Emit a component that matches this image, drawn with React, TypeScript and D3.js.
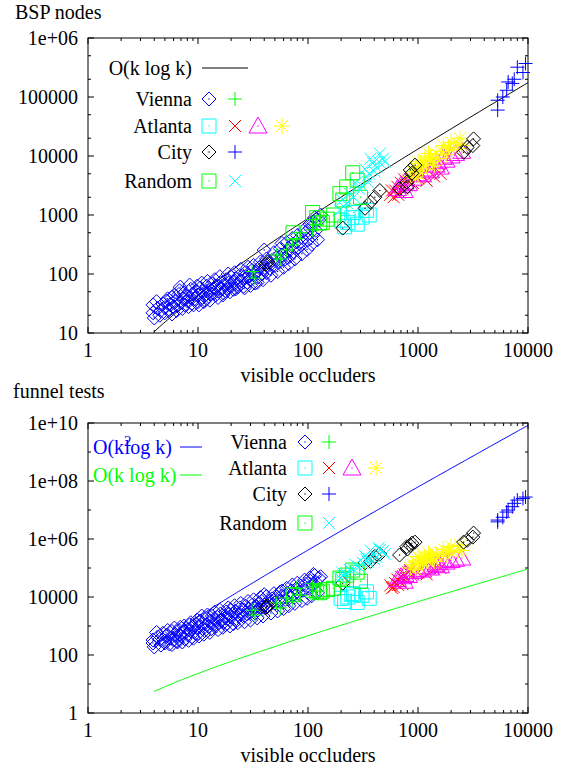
import React from "react";
import * as d3 from "d3";

// ---------- tick values / labels ----------
const xTicks = [1, 10, 100, 1000, 10000];
const xTickLabels = ["1", "10", "100", "1000", "10000"];
const bspTicks = [10, 100, 1000, 10000, 100000, 1000000];
const bspTickLabels = ["10", "100", "1000", "10000", "100000", "1e+06"];
const funnelTicks = [1, 100, 1e4, 1e6, 1e8, 1e10];
const funnelTickLabels = ["1", "100", "10000", "1e+06", "1e+08", "1e+10"];

// ---------- data: [visible occluders, BSP nodes, funnel tests] ----------
type Row = [number, number, number];

const viennaDiamond: Row[] = [
  [3.9, 22, 260], [3.9, 30, 330], [4.0, 18, 190], [4.2, 34, 600], [4.3, 26, 420], [4.5, 20, 350],
  [4.6, 24, 220], [4.8, 31, 560], [5.0, 27, 300], [5.0, 22, 260], [5.2, 35, 480], [5.3, 38, 700],
  [5.5, 25, 240], [5.6, 30, 380], [5.8, 40, 650], [5.8, 21, 230], [6.0, 28, 330], [6.1, 44, 850],
  [6.2, 34, 520], [6.4, 24, 300], [6.5, 29, 280], [6.7, 45, 700], [6.8, 52, 500], [6.9, 60, 900],
  [7.0, 33, 440], [7.2, 26, 280], [7.3, 38, 600], [7.5, 48, 1000], [7.6, 30, 360], [7.8, 42, 820],
  [8.0, 35, 500], [8.2, 28, 320], [8.4, 65, 1100], [8.5, 40, 700], [8.6, 55, 1300], [8.8, 32, 420],
  [9.0, 46, 950], [9.1, 30, 380], [9.3, 38, 650], [9.6, 52, 1200], [9.8, 62, 1600], [10, 34, 560],
  [10, 44, 900], [10.2, 30, 450], [10.5, 58, 1500], [10.8, 70, 2200], [11, 40, 800], [11, 50, 1200],
  [11.3, 34, 520], [11.5, 36, 700], [12, 46, 1100], [12, 62, 1800], [12.2, 75, 2400], [12.5, 42, 950],
  [12.8, 36, 600], [13, 54, 1500], [13.2, 46, 800], [13.5, 68, 2200], [14, 48, 1200], [14, 58, 1700],
  [14.2, 80, 3000], [14.5, 44, 1000], [15, 62, 2000], [15.2, 40, 750], [15.5, 52, 1400], [15.8, 90, 3500],
  [16, 72, 2600], [16.5, 56, 1600], [16.8, 44, 900], [17, 48, 1300], [17.5, 66, 2200], [17.8, 52, 1100],
  [18, 80, 3000], [18.5, 58, 1800], [18.8, 100, 4200], [19, 70, 2500], [19.5, 50, 1000], [20, 62, 2000],
  [20, 88, 3500], [21, 74, 2800], [21, 55, 1200], [21.5, 105, 5000], [22, 56, 1700], [22, 82, 3200],
  [23, 68, 2400], [23, 60, 1300], [24, 95, 4200], [24.5, 120, 6000], [25, 76, 2900], [26, 62, 2100],
  [26, 88, 3600], [26.5, 58, 1400], [27, 105, 4800], [28, 72, 2600], [28.5, 130, 7000], [29, 92, 3800],
  [30, 80, 3100], [30, 64, 1600], [31, 115, 5200], [32, 98, 4200], [32, 140, 8000], [33, 70, 2800],
  [34, 108, 4700], [34.5, 72, 1900], [35, 88, 3600], [36, 128, 6200], [37, 160, 9500], [38, 100, 4300],
  [38, 140, 7000], [39, 80, 2200], [40, 120, 5200], [40, 255, 12000], [42, 105, 4500], [42, 180, 10500],
  [44, 150, 7500], [45, 125, 5500], [46, 95, 2800], [47, 170, 8600], [49, 230, 13000], [50, 140, 6200],
  [52, 190, 9800], [53, 110, 3300], [55, 160, 7200], [56, 270, 15000], [58, 330, 16000], [58, 210, 11000],
  [60, 130, 4000], [62, 180, 8200], [64, 340, 20000], [65, 250, 13000], [67, 150, 5000], [68, 200, 9500],
  [70, 300, 16000], [72, 400, 26000], [74, 240, 12000], [76, 180, 6000], [78, 350, 19000], [80, 450, 30000],
  [82, 280, 14000], [86, 420, 24000], [88, 220, 7500], [90, 330, 17000], [93, 560, 38000], [95, 500, 28000],
  [98, 260, 9000], [100, 380, 20000], [104, 700, 45000], [105, 600, 35000], [108, 320, 11000],
  [110, 450, 26000], [112, 750, 60000], [115, 900, 55000], [118, 550, 32000], [122, 380, 14000],
  [125, 820, 45000], [130, 1000, 50000],
];
const viennaPlus: Row[] = [
  [31, 110, 3500], [33, 85, 2400], [52, 210, 6200], [56, 180, 4200], [64, 255, 9300],
  [72, 310, 8000], [79, 400, 20000], [85, 500, 11500], [110, 560, 22000], [120, 680, 16000],
];
const atlantaSquare: Row[] = [
  [200, 820, 9000], [215, 630, 7000], [230, 750, 10000], [250, 900, 13000], [280, 700, 6500],
  [310, 920, 11500], [340, 1200, 15000], [360, 1000, 9000], [260, 1100, 12000],
];
const atlantaCross: Row[] = [
  [560, 2200, 25000], [580, 2600, 20000], [600, 2000, 22000], [620, 2600, 30000], [650, 3000, 40000],
  [660, 2200, 26000], [680, 2400, 35000], [700, 3500, 50000], [720, 2800, 28000], [750, 4000, 60000],
  [780, 3200, 45000], [820, 3800, 70000], [850, 4400, 85000], [900, 3500, 60000], [1000, 4200, 70000],
  [1200, 3800, 60000], [1400, 4500, 90000], [1600, 5000, 100000],
];
const atlantaTriangle: Row[] = [
  [650, 2800, 40000], [700, 3200, 50000], [750, 2600, 35000], [760, 3600, 60000], [820, 3400, 55000],
  [900, 4200, 75000], [1000, 5000, 90000], [1100, 4800, 85000], [1200, 6000, 110000], [1300, 5600, 100000],
  [1450, 7000, 130000], [1500, 8000, 150000], [1600, 6500, 120000], [1700, 9500, 190000],
  [1800, 8500, 160000], [2000, 10000, 180000], [2200, 11000, 200000], [2500, 12000, 220000],
];
const atlantaStar: Row[] = [
  [850, 4500, 100000], [900, 5500, 130000], [950, 6500, 160000], [950, 4200, 90000], [1000, 5000, 120000],
  [1000, 8000, 250000], [1050, 7500, 200000], [1100, 6000, 150000], [1150, 8500, 230000],
  [1200, 7000, 180000], [1250, 11000, 320000], [1300, 9500, 260000], [1350, 8000, 210000],
  [1400, 7000, 170000], [1450, 11000, 300000], [1500, 9000, 250000], [1650, 12000, 330000],
  [1700, 15000, 450000], [1800, 10500, 280000], [1900, 14000, 380000], [2000, 17000, 550000],
  [2100, 13000, 350000], [2300, 16000, 420000], [2400, 20000, 620000], [2500, 15000, 400000],
];
const cityDiamond: Row[] = [
  [41, 145, 4200], [42, 150, 4500], [43, 160, 5000], [207, 600, 30000], [330, 1300, 150000],
  [370, 1650, 170000], [405, 2000, 250000], [450, 2600, 300000], [680, 2800, 280000],
  [790, 3600, 540000], [800, 3000, 450000], [850, 5800, 600000], [880, 5100, 720000],
  [940, 7000, 780000], [2600, 11600, 780000], [2800, 14000, 900000], [3150, 15000, 1160000],
  [3200, 19500, 1600000],
];
const cityPlus: Row[] = [
  [5300, 60000, 3.9e6], [5300, 88000, 4.5e6], [5900, 100000, 5.6e6], [6400, 130000, 8.5e6],
  [6600, 180000, 1.0e7], [7200, 170000, 1.3e7], [7500, 200000, 1.7e7], [8000, 320000, 2.2e7],
  [9000, 260000, 2.5e7], [9500, 370000, 2.8e7],
];
const randomSquare: Row[] = [
  [73, 500, 12000], [110, 1100, 17000], [120, 900, 15000], [128, 730, 14000], [135, 750, 16000],
  [150, 850, 18000], [170, 1000, 20000], [195, 2300, 45000], [207, 1800, 40000], [225, 3000, 57000],
  [255, 5200, 85000], [280, 3900, 72000], [300, 2000, 35000],
];
const randomCross: Row[] = [
  [195, 1200, 45000], [205, 1800, 70000], [210, 1400, 55000], [225, 1600, 60000], [240, 2300, 85000],
  [260, 2000, 90000], [270, 3500, 130000], [290, 2800, 110000], [315, 3000, 150000], [330, 6000, 260000],
  [340, 4400, 190000], [350, 3600, 160000], [360, 5000, 210000], [370, 9000, 400000], [390, 7600, 330000],
  [400, 5500, 200000], [420, 6500, 240000], [440, 8000, 500000], [450, 11000, 420000], [480, 9000, 380000],
  [500, 8000, 300000],
];

// reference curves: coefficient for c * k^p * ln k
const curveK = [4, 10000];
const bspCurveCoef = 1.9;
const funnelSqCoef = 9;
const funnelLinCoef = 1;

const BLUE = "#0000ff";
const GREEN = "#00ff00";
const CYAN = "#00ffff";
const RED = "#ff0000";
const MAGENTA = "#ff00ff";
const YELLOW = "#ffff00";
const BLACK = "#000000";

const series = [
  { data: viennaDiamond, shape: "diamond", color: BLUE },
  { data: viennaPlus, shape: "plus", color: GREEN },
  { data: atlantaSquare, shape: "square", color: CYAN },
  { data: atlantaCross, shape: "cross", color: RED },
  { data: atlantaTriangle, shape: "triangle", color: MAGENTA },
  { data: atlantaStar, shape: "star", color: YELLOW },
  { data: cityDiamond, shape: "diamond", color: BLACK },
  { data: cityPlus, shape: "plus", color: BLUE },
  { data: randomSquare, shape: "square", color: GREEN },
  { data: randomCross, shape: "cross", color: CYAN },
];

const legendRows = [
  { label: "Vienna", items: [["diamond", BLUE], ["plus", GREEN]] },
  { label: "Atlanta", items: [["square", CYAN], ["cross", RED], ["triangle", MAGENTA], ["star", YELLOW]] },
  { label: "City", items: [["diamond", BLACK], ["plus", BLUE]] },
  { label: "Random", items: [["square", GREEN], ["cross", CYAN]] },
];

function symbolPath(shape: string): string {
  switch (shape) {
    case "diamond": return "M0,-7L7,0L0,7L-7,0Z";
    case "square": return "M-7,-7H7V7H-7Z";
    case "plus": return "M-7,0H7M0,-7V7";
    case "cross": return "M-6,-6L6,6M-6,6L6,-6";
    case "triangle": return "M0,-9L9,7H-9Z";
    case "star": return "M-8,0H8M0,-8V8M-6,-6L6,6M-6,6L6,-6";
  }
  return "";
}

function Sym({ shape, color, x, y }: { shape: string; color: string; x: number; y: number }) {
  const dot = shape === "diamond" || shape === "square" || shape === "triangle";
  return (
    <g transform={`translate(${x},${y})`}>
      <path d={symbolPath(shape)} fill="none" stroke={color} strokeWidth={1} />
      {dot && <circle r={0.7} fill={color} />}
    </g>
  );
}

const FONT = "'Liberation Serif', 'Times New Roman', serif";
const FS = 20;

const X0 = 88, X1 = 528;
const xScale = d3.scaleLog().domain([1, 10000]).range([X0, X1]);

function Frame({ yScale, yTicks, yLabels, yMinor, top, bottom }: any) {
  const xMinor: number[] = [];
  [1, 10, 100, 1000].forEach((d) => { for (let m = 2; m <= 9; m++) xMinor.push(d * m); });
  const MJ = 6, MN = 3;
  return (
    <g>
      <rect x={X0} y={top} width={X1 - X0} height={bottom - top} fill="none" stroke="#000" strokeWidth={1} />
      {xTicks.map((t, i) => {
        const x = xScale(t);
        return (
          <g key={"xt" + i}>
            <line x1={x} x2={x} y1={bottom} y2={bottom - MJ} stroke="#000" />
            <line x1={x} x2={x} y1={top} y2={top + MJ} stroke="#000" />
            <text x={x} y={bottom + 24} textAnchor="middle" fontFamily={FONT} fontSize={FS}>{xTickLabels[i]}</text>
          </g>
        );
      })}
      {xMinor.map((t, i) => {
        const x = xScale(t);
        return (
          <g key={"xm" + i}>
            <line x1={x} x2={x} y1={bottom} y2={bottom - MN} stroke="#000" />
            <line x1={x} x2={x} y1={top} y2={top + MN} stroke="#000" />
          </g>
        );
      })}
      {yTicks.map((t: number, i: number) => {
        const y = yScale(t);
        return (
          <g key={"yt" + i}>
            <line x1={X0} x2={X0 + MJ} y1={y} y2={y} stroke="#000" />
            <line x1={X1} x2={X1 - MJ} y1={y} y2={y} stroke="#000" />
            <text x={78} y={y} dy="0.35em" textAnchor="end" fontFamily={FONT} fontSize={FS}>{yLabels[i]}</text>
          </g>
        );
      })}
      {yMinor.map((t: number, i: number) => {
        const y = yScale(t);
        return (
          <g key={"ym" + i}>
            <line x1={X0} x2={X0 + MN} y1={y} y2={y} stroke="#000" />
            <line x1={X1} x2={X1 - MN} y1={y} y2={y} stroke="#000" />
          </g>
        );
      })}
      <text x={(X0 + X1) / 2} y={bottom + 49} textAnchor="middle" fontFamily={FONT} fontSize={FS}>visible occluders</text>
    </g>
  );
}

function curvePath(yScale: any, f: (k: number) => number) {
  const ks = d3.range(0, 201).map((i) => curveK[0] * Math.pow(curveK[1] / curveK[0], i / 200));
  return d3.line<number>().x((k) => xScale(k)).y((k) => yScale(f(k)))(ks) || "";
}

export default function App() {
  const yTop = d3.scaleLog().domain([10, 1e6]).range([333, 38]);
  const yBot = d3.scaleLog().domain([1, 1e10]).range([713, 423]);
  const topMinor: number[] = [];
  [10, 100, 1000, 10000, 100000].forEach((d) => { topMinor.push(d * 2, d * 5); });
  const botMinor = [10, 1e3, 1e5, 1e7, 1e9];

  const topLegendY = [99, 126, 152, 181];
  const botLegendY = [442, 468, 494, 523];
  const symXTop = [209, 235, 258, 282];
  const symXBot = [305, 329, 352, 376];

  return (
    <svg width={565} height={769} style={{ position: "absolute", left: 0, top: 0, background: "#fff" }}>
      <rect width={565} height={769} fill="#fff" />
      {/* ---------- top panel ---------- */}
      <text x={15} y={19} fontFamily={FONT} fontSize={FS}>BSP nodes</text>
      <Frame yScale={yTop} yTicks={bspTicks} yLabels={bspTickLabels} yMinor={topMinor} top={38} bottom={333} />
      <path d={curvePath(yTop, (k) => bspCurveCoef * k * Math.log(k))} fill="none" stroke="#000" strokeWidth={1} />
      {series.map((s, si) => (
        <g key={"ts" + si}>
          {s.data.map((r, i) => (
            <Sym key={i} shape={s.shape} color={s.color} x={xScale(r[0])} y={yTop(r[1])} />
          ))}
        </g>
      ))}
      <text x={192} y={68} dy="0.35em" textAnchor="end" fontFamily={FONT} fontSize={FS}>O(k log k)</text>
      <line x1={202} x2={248} y1={68} y2={68} stroke="#000" />
      {legendRows.map((row, ri) => (
        <g key={"tl" + ri}>
          <text x={192} y={topLegendY[ri]} dy="0.35em" textAnchor="end" fontFamily={FONT} fontSize={FS}>{row.label}</text>
          {row.items.map((it, ii) => (
            <Sym key={ii} shape={it[0]} color={it[1]} x={symXTop[ii]} y={topLegendY[ri]} />
          ))}
        </g>
      ))}

      {/* ---------- bottom panel ---------- */}
      <text x={13} y={398} fontFamily={FONT} fontSize={FS}>funnel tests</text>
      <Frame yScale={yBot} yTicks={funnelTicks} yLabels={funnelTickLabels} yMinor={botMinor} top={423} bottom={713} />
      <path d={curvePath(yBot, (k) => funnelSqCoef * k * k * Math.log(k))} fill="none" stroke={BLUE} strokeWidth={1} />
      <path d={curvePath(yBot, (k) => funnelLinCoef * k * Math.log(k))} fill="none" stroke={GREEN} strokeWidth={1} />
      {series.map((s, si) => (
        <g key={"bs" + si}>
          {s.data.map((r, i) => (
            <Sym key={i} shape={s.shape} color={s.color} x={xScale(r[0])} y={yBot(r[2])} />
          ))}
        </g>
      ))}
      <text x={93} y={447} dy="0.35em" fontFamily={FONT} fontSize={FS} fill={BLUE}>
        O(k<tspan dy={-8} fontSize={15}>2</tspan><tspan dx={-7} dy={8}>log k)</tspan>
      </text>
      <line x1={180} x2={202} y1={447} y2={447} stroke={BLUE} />
      <text x={93} y={475} dy="0.35em" fontFamily={FONT} fontSize={FS} fill={GREEN}>O(k log k)</text>
      <line x1={180} x2={202} y1={475} y2={475} stroke={GREEN} />
      {legendRows.map((row, ri) => (
        <g key={"bl" + ri}>
          <text x={287} y={botLegendY[ri]} dy="0.35em" textAnchor="end" fontFamily={FONT} fontSize={FS}>{row.label}</text>
          {row.items.map((it, ii) => (
            <Sym key={ii} shape={it[0]} color={it[1]} x={symXBot[ii]} y={botLegendY[ri]} />
          ))}
        </g>
      ))}
    </svg>
  );
}
